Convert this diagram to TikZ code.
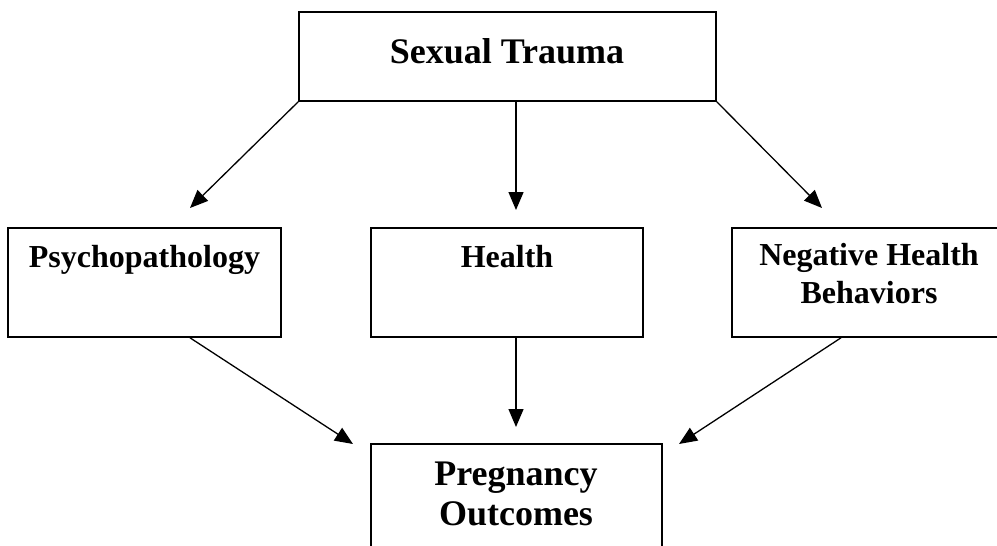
\documentclass[tikz,border=0pt]{standalone}
\usepackage{fontspec}
\setmainfont{Liberation Serif}
\usetikzlibrary{arrows.meta}
\begin{document}
\begin{tikzpicture}[x=1pt,y=-1pt,
  box/.style={draw, line width=1.6pt, rectangle, inner sep=0pt},
  bigtxt/.style={font=\bfseries\fontsize{36}{40}\selectfont, inner sep=0pt, align=center},
  midtxt/.style={font=\bfseries\fontsize{32}{38}\selectfont, inner sep=0pt, align=center},
  conn/.style={line width=1.3pt, -{Triangle[length=18pt,width=15pt]}}]
\useasboundingbox (0,0) rectangle (997,546);
\clip (0,0) rectangle (997,546);
% boxes
\node[box, minimum width=417pt, minimum height=89pt] (trauma) at (507.5,56.5) {};
\node[box, minimum width=273pt, minimum height=109pt] (psy) at (144.5,282.5) {};
\node[box, minimum width=272pt, minimum height=109pt] (health) at (507,282.5) {};
\node[box, minimum width=270pt, minimum height=109pt] (nhb) at (867,282.5) {};
\node[box, minimum width=291pt, minimum height=120pt] (preg) at (516.5,504) {};
% texts
\node[bigtxt, anchor=base] (ttrauma) at (507,63) {Sexual Trauma};
\node[midtxt, anchor=base] (tpsy) at (144.5,267) {Psychopathology};
\node[midtxt, anchor=base] (thealth) at (507,267) {Health};
\node[midtxt, anchor=base] (tnhb) at (869,303) {Negative Health\\Behaviors};
\node[bigtxt, anchor=base] (tpreg) at (516,525) {Pregnancy\\Outcomes};
% arrow ends
\coordinate (tl) at (190,208);
\coordinate (tm) at (516,210);
\coordinate (tr) at (822,208);
\coordinate (hp) at (516,427);
\coordinate (pp) at (353,444);
\coordinate (np) at (679,444);
% connectors
\draw[conn] (trauma.south west) -- (tl);
\draw[conn] (tm |- trauma.south) -- (tm);
\draw[conn] (trauma.south east) -- (tr);
\draw[conn] (hp |- health.south) -- (hp);
\draw[conn] ([xshift=45.5pt]psy.south) -- (pp);
\draw[conn] ([xshift=-26pt]nhb.south) -- (np);
\end{tikzpicture}
\end{document}
